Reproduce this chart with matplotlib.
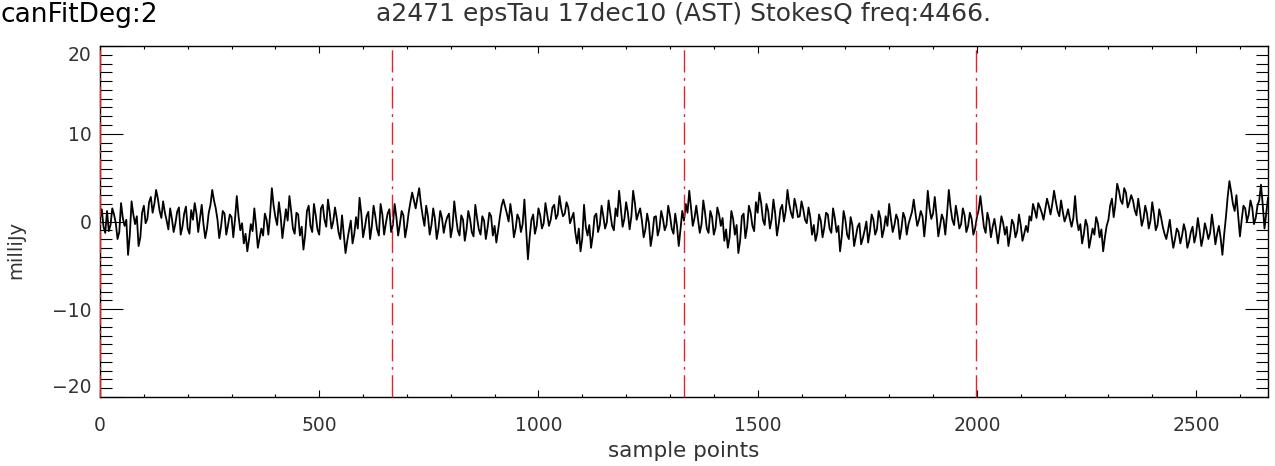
import numpy as np
import matplotlib
matplotlib.use("Agg")
import matplotlib.pyplot as plt
from matplotlib.ticker import MultipleLocator

# ---- data ----
# values at samples 0, 8, 16, ... (grid A) and at 4, 12, 20, ... (grid B)
sample_step = 8
stokes_q_grid_a = [
    0.3, -0.6, 1.2, -0.4, 0.8, -2.0, 2.1, -0.5, -3.8, 2.3, -0.3, -2.8, 1.0, -0.2, 2.2, 1.0,
    3.6, 1.2, 2.3, 0.1, 1.5, -1.2, 1.1, -1.5, 0.9, -0.8, 1.3, 2.1, -1.2, 1.9, -1.9, 1.0,
    3.6, 1.5, -1.9, 1.2, -1.5, 0.8, -1.8, 2.9, -1.0, -2.5, -3.4, -0.3, 1.5, -3.0, -0.8, 0.9,
    -1.5, 3.8, 0.5, 2.2, -1.9, 1.4, 2.9, -0.8, 1.0, -1.6, -3.2, 1.2, -0.5, 2.0, -0.9, 1.5,
    0.2, 2.5, -0.8, 1.6, -1.2, 0.7, -3.6, -1.0, -2.5, 0.5, 2.7, -1.8, 0.6, -2.0, 1.8, -0.9,
    2.0, -1.5, 0.9, -1.2, 2.0, -1.6, 1.2, -1.8, 1.0, 3.3, 1.5, 3.8, 0.6, 1.8, -1.5, 1.5,
    -2.0, 1.2, -1.3, 0.5, -1.8, 2.3, -1.0, 0.7, -2.2, 1.2, -1.2, 1.9, -0.9, 0.6, -2.0, 1.0,
    -1.6, -2.4, 0.5, 2.5, 0.9, 2.0, -1.8, 0.8, -1.2, 2.5, -4.3, 0.2, -1.4, 1.5, -0.8, 2.1,
    -0.5, 1.6, 0.3, 2.9, 0.6, 2.2, -0.2, 1.0, -2.5, -3.4, 1.9, -1.6, -3.0, 0.6, -1.2, 1.8,
    -0.8, 2.4, -0.5, 1.5, 3.5, -0.6, 2.2, -0.9, 3.5, 0.2, 1.5, -1.8, 0.9, -2.8, 0.5, -1.6,
    1.2, -1.0, 1.8, -0.8, 0.9, -2.8, 1.2, 2.0, 3.5, -0.5, 1.8, -1.3, 2.4, -0.8, 1.2, -1.5,
    1.6, -0.5, -2.2, -3.0, 1.2, -1.5, -3.6, 0.6, -1.9, 1.8, -0.5, 2.2, 3.3, 0.2, 2.0, -0.8,
    2.5, -1.6, 1.4, 0.0, 3.6, 1.0, 2.6, 0.5, 2.3, 0.2, 1.6, -1.5, -2.2, 0.8, -1.8, 1.0,
    -0.8, 1.5, -1.2, -3.4, 1.2, -1.5, 0.5, -2.8, -0.6, -2.6, -1.0, -2.4, 0.8, -1.5, 1.2, -1.8,
    0.6, 2.0, -1.2, 0.8, -2.0, 1.0, -1.5, 0.4, 2.5, -0.5, 1.2, -1.7, 3.5, 0.3, 2.8, -1.7,
    0.8, -1.5, 3.6, 0.2, 1.8, -0.8, 1.5, -1.2, 1.0, -1.5, 0.5, 2.9, -0.6, 1.0, -1.8, 0.3,
    -2.5, 0.6, -1.5, -2.8, 0.2, -1.8, 0.8, -2.2, -0.5, 0.6, 2.0, 0.4, 1.6, 0.2, 2.6, 0.8,
    3.5, 1.2, 2.4, 0.0, 1.4, -0.6, 2.9, -1.0, -2.5, 0.2, -3.0, -0.8, 0.5, -1.8, -3.4, -0.5,
    1.8, 0.5, 4.3, 2.4, 3.8, 1.6, 3.0, 1.3, 2.6, -0.5, 1.8, -0.8, 2.2, -1.0, 1.4, -0.6,
    -2.0, 0.2, -3.0, -0.8, -2.5, -0.3, -3.0, -1.2, -2.4, 0.4, -2.8, -0.2, -2.0, 0.8, -2.6, -0.5,
    -3.8, 0.5, 4.6, 2.0, 3.0, -1.7, 1.8, 0.0, 2.4, -0.3, 1.8, 4.2, -0.8, 2.7,
]
stokes_q_grid_b = [
    1.4, -1.3, -1.1, 1.5, -0.2, -1.2, 0.4, 0.2, -1.5, 0.8, 0.6, -1.8, 1.8, 0.3, 2.8, 2.0,
    2.6, 0.4, 1.0, -0.9, 0.3, -0.2, 1.6, -0.6, 1.7, -1.4, 0.2, 0.9, 0.4, -0.3, -0.8, 1.9,
    2.4, 0.2, -0.6, 0.9, -0.4, 0.5, 0.3, 0.6, -0.2, -1.4, -2.0, -1.1, -0.5, -1.9, -1.6, 0.2,
    0.8, 1.8, -0.4, 0.6, -0.2, 0.1, 1.2, -1.4, 0.8, -0.6, -1.5, 1.8, -1.2, 0.7, -1.5, 1.9,
    -0.6, 1.0, 0.0, 0.4, -2.0, -1.4, -2.2, 0.1, -1.4, -0.8, 0.9, -0.7, 1.1, -0.5, 0.6, -1.6,
    0.8, -0.2, 1.4, -0.4, 0.5, -0.3, 0.7, -0.6, 2.2, 2.4, 2.7, 2.0, -0.5, 0.6, -0.4, 0.3,
    -0.8, 0.4, -0.2, 0.9, -0.6, 0.5, -1.6, 0.2, -0.9, 0.3, -1.7, 0.4, -1.5, 0.1, -0.7, 0.6,
    -0.5, -1.0, 1.8, 1.7, 0.0, 0.5, -0.8, 0.3, -0.3, -0.9, -1.8, 0.8, -0.5, 0.7, -0.2, 0.8,
    0.2, 1.9, 0.8, 1.5, 0.9, 1.6, 0.4, -1.2, -0.8, -1.9, -0.6, -0.4, -1.6, 0.9, -0.4, 0.6,
    -0.1, 0.9, -1.0, 0.6, 1.4, 0.3, 1.0, 0.6, 2.1, 0.9, 0.1, -0.9, -0.2, -1.5, 0.6, -0.8,
    0.3, -0.4, 0.7, -1.4, -0.5, -0.9, 0.1, 1.0, 1.6, 0.4, 0.2, -0.3, 1.0, -1.3, 0.5, -0.7,
    0.8, 0.4, -0.9, -1.8, 0.3, -0.4, -2.2, 0.9, -0.6, 1.0, -1.1, 1.0, 2.1, -0.4, 1.2, 0.3,
    0.9, -0.3, 1.9, 1.2, 2.0, 0.4, 1.7, 0.6, 1.4, -0.2, 0.5, -0.4, -1.3, 0.1, -0.7, 0.8,
    -1.3, 0.4, -0.5, -1.6, 0.2, -2.0, -0.4, -1.7, -0.2, -1.9, 0.0, -1.1, 0.2, -0.9, 0.4, -0.9,
    -0.5, 0.3, -0.4, 0.2, -0.8, 0.4, -0.3, 1.1, 0.9, 0.2, 0.6, 0.4, 1.5, 0.9, 0.7, -0.5,
    0.2, 0.9, 1.6, -0.4, 0.6, -0.3, 0.7, -0.5, 0.3, -0.8, 1.3, 1.1, -1.3, 0.1, -0.6, -1.0,
    -1.0, -0.2, -0.6, -1.5, -0.3, -1.1, -0.4, -1.4, -1.2, 0.1, 1.3, 2.1, 1.0, 1.4, 1.8, 2.0,
    2.3, 0.6, 1.1, 0.6, 0.3, 0.4, 0.2, -0.3, -1.4, -0.5, -1.9, -1.5, -0.2, -0.9, -1.8, 0.2,
    2.6, 2.0, 3.5, 2.0, 3.3, 2.2, 2.4, 0.7, 1.2, 0.3, 0.9, 0.1, 0.8, -0.4, 0.5, -1.4,
    -1.0, -1.6, -2.0, -1.2, -1.6, -1.1, -2.3, -0.6, -1.5, -1.0, -1.8, -1.0, -1.3, -0.7, -1.4, -1.9,
    -1.5, 2.8, 3.4, 1.2, 0.6, 0.2, 1.5, 0.8, 1.6, 0.4, 2.4, 1.9, 1.0,
]
marker_positions = [0, 666, 1332, 1998]

x_limits = (0, 2664)
y_limits = (-20, 20)
x_ticks = [0, 500, 1000, 1500, 2000, 2500]
y_ticks = [-20, -10, 0, 10, 20]

title_text = "a2471 epsTau 17dec10 (AST) StokesQ freq:4466."
corner_text = "canFitDeg:2"
x_label = "sample points"
y_label = "milliJy"

# interleave the two sample grids into one trace
xa = np.arange(len(stokes_q_grid_a)) * sample_step
xb = np.arange(len(stokes_q_grid_b)) * sample_step + sample_step // 2
x_all = np.concatenate([xa, xb])
y_all = np.concatenate([stokes_q_grid_a, stokes_q_grid_b])
order = np.argsort(x_all)
sample_points = x_all[order]
stokes_q = y_all[order]

# ---- figure ----
W, H = 1275, 466
fig = plt.figure(figsize=(W / 100, H / 100), dpi=100)
ax = fig.add_axes([100 / W, 1 - 397 / H, 1168 / W, 351 / H])

ax.plot(sample_points, stokes_q, color="black", lw=1.3, zorder=2)
for xm in marker_positions:
    ax.axvline(xm, color="#e8202a", lw=1.0, linestyle=(0, (16, 4, 2, 4)),
               zorder=4, clip_on=False)

ax.set_xlim(*x_limits)
ax.set_ylim(*y_limits)
ax.set_xticks(x_ticks)
ax.set_yticks(y_ticks)
ax.set_yticklabels([str(v).replace("-", "\u2212") for v in y_ticks])
ax.xaxis.set_minor_locator(MultipleLocator(100))
ax.yaxis.set_minor_locator(MultipleLocator(1))

txt_color = "#333333"
ax.tick_params(axis="both", which="both", direction="in", top=True, right=True,
               color="black", labelcolor=txt_color, labelsize=13.5, width=0.8)
ax.tick_params(axis="y", which="major", length=16.5, pad=6)
ax.tick_params(axis="y", which="minor", length=8.4)
ax.tick_params(axis="x", which="major", length=5, pad=14)
ax.tick_params(axis="x", which="minor", length=2.5)
for s in ax.spines.values():
    s.set_linewidth(1.0)
    s.set_color("black")

yt = ax.yaxis.get_major_ticks()
yt[0].label1.set_verticalalignment("bottom")
yt[-1].label1.set_verticalalignment("top")

ax.set_xlabel(x_label, fontsize=15.5, color=txt_color, labelpad=4)
ax.set_ylabel(y_label, fontsize=14, color=txt_color)
ax.yaxis.set_label_coords(-75 / 1168, 0.42)

fig.text((100 + 584) / W, 1 - 14 / H, title_text, ha="center", va="center",
         fontsize=18, color=txt_color)
fig.text(0, 1 - 15 / H, corner_text, ha="left", va="center",
         fontsize=19, color="black")

fig.savefig("out.png", dpi=100)
